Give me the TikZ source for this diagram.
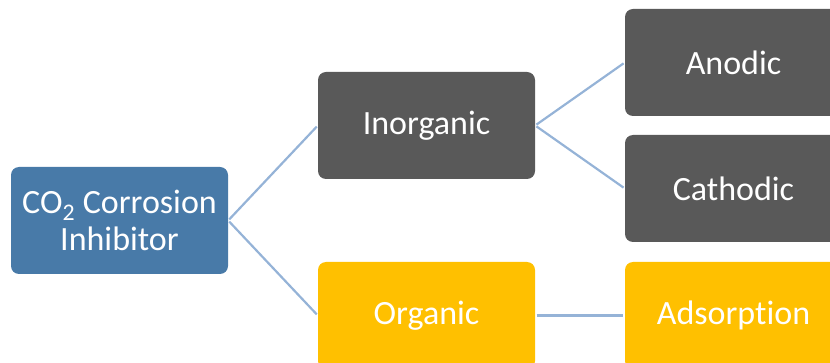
\documentclass[tikz,border=0pt]{standalone}
\usepackage{fontspec}
\setmainfont[Ligatures=NoCommon]{Carlito}
\definecolor{cblue}{HTML}{487AA8}
\definecolor{cgray}{HTML}{595959}
\definecolor{cyellow}{HTML}{FFC000}
\definecolor{cline}{HTML}{95B3D7}
\begin{document}
\begin{tikzpicture}[x=1pt,y=-1pt,
  box/.style={rectangle, rounded corners=8pt, minimum width=217pt, minimum height=107pt,
    inner sep=0pt, text=white, align=center,
    font=\fontsize{34}{37}\selectfont},
  link/.style={draw=cline, line width=2.2pt, shorten <=1.5pt, shorten >=1.5pt}]
\useasboundingbox (0,0) rectangle (830,363);
\node[box, fill=cblue] (root) at (119.5,220.5) {CO\textsubscript{2} Corrosion\\Inhibitor};
\node[box, fill=cgray] (inorg) at (426.5,125.5) {Inorganic};
\node[box, fill=cyellow] (org) at (426.5,315.5) {Organic};
\node[box, fill=cgray] (anod) at (733.5,62.5) {Anodic};
\node[box, fill=cgray] (cath) at (733.5,188.5) {Cathodic};
\node[box, fill=cyellow] (ads) at (733.5,315.5) {Adsorption};
\draw[link] (root.east) -- (inorg.west);
\draw[link] (root.east) -- (org.west);
\draw[link] (inorg.east) -- (anod.west);
\draw[link] (inorg.east) -- (cath.west);
\draw[link] (org.east) -- (ads.west);
\end{tikzpicture}
\end{document}
